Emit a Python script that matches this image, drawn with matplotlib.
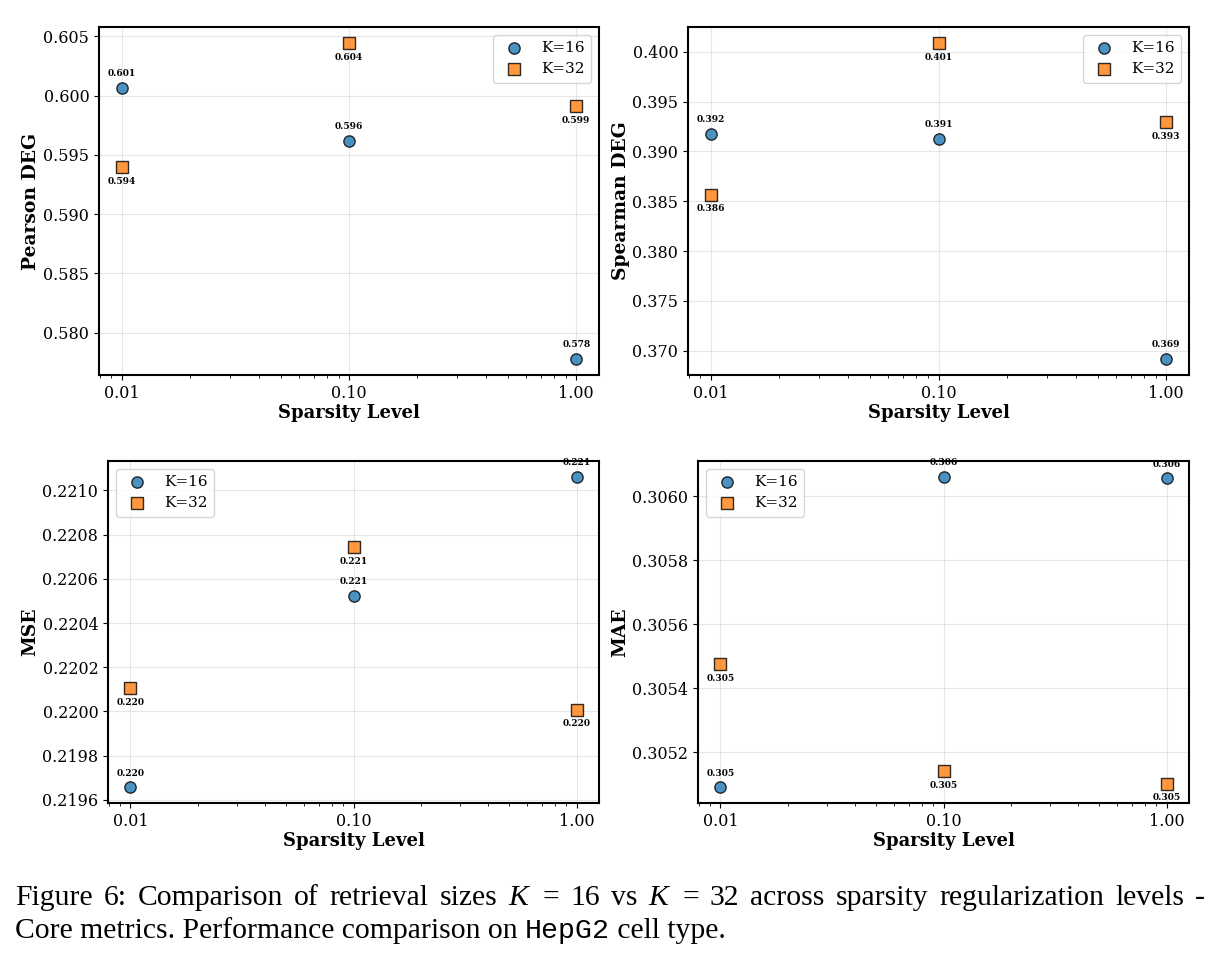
import matplotlib
matplotlib.use("Agg")
import matplotlib.pyplot as plt
from matplotlib.ticker import FixedLocator, FuncFormatter, ScalarFormatter

plt.rcParams["font.family"] = "serif"
plt.rcParams["font.serif"] = ["DejaVu Serif"]
plt.rcParams["mathtext.fontset"] = "custom"
plt.rcParams["mathtext.rm"] = "Liberation Serif"
plt.rcParams["mathtext.it"] = "Liberation Serif:italic"

# data
sparsity = [0.01, 0.10, 1.00]
x_ticks = [0.01, 0.1, 1.0]

pearson_k16 = [0.60067, 0.59621, 0.57777]
pearson_k32 = [0.59396, 0.60446, 0.59914]

spearman_k16 = [0.39174, 0.39127, 0.36916]
spearman_k32 = [0.38568, 0.40090, 0.39291]

mse_k16 = [0.219656, 0.220524, 0.221063]
mse_k32 = [0.220105, 0.220745, 0.220008]

mae_k16 = [0.305090, 0.306062, 0.306056]
mae_k32 = [0.305476, 0.305140, 0.305102]

panels = [
    ("Pearson DEG", pearson_k16, pearson_k32, [99, 27, 599, 375], "upper right"),
    ("Spearman DEG", spearman_k16, spearman_k32, [688, 27, 1189, 375], "upper right"),
    ("MSE", mse_k16, mse_k32, [108, 461, 599, 803], "upper left"),
    ("MAE", mae_k16, mae_k32, [698, 461, 1189, 803], "upper left"),
]

W, H = 1218, 961
fig = plt.figure(figsize=(W / 100, H / 100), dpi=100)

for name, k16, k32, box, loc in panels:
    x0, y0, x1, y1 = box
    ax = fig.add_axes([x0 / W, 1 - y1 / H, (x1 - x0) / W, (y1 - y0) / H])

    ax.scatter(sparsity, k16, s=66, marker="o", color="tab:blue", alpha=0.8,
               edgecolor="black", linewidth=1, label="K=16", zorder=3)
    ax.scatter(sparsity, k32, s=66, marker="s", color="tab:orange", alpha=0.8,
               edgecolor="black", linewidth=1, label="K=32", zorder=3)

    for x, v in zip(sparsity, k16):
        ax.annotate(f"{v:.3f}", (x, v), textcoords="offset points", xytext=(0, 7),
                    ha="center", va="bottom", fontsize=6.5, fontweight="bold")
    for x, v in zip(sparsity, k32):
        ax.annotate(f"{v:.3f}", (x, v), textcoords="offset points", xytext=(0, -7),
                    ha="center", va="top", fontsize=6.5, fontweight="bold")

    ax.set_xscale("log")
    ax.xaxis.set_major_locator(FixedLocator(x_ticks))
    ax.xaxis.set_major_formatter(FuncFormatter(lambda v, p: f"{v:.2f}"))
    ax.yaxis.set_major_formatter(ScalarFormatter(useOffset=False))

    ax.set_xlabel("Sparsity Level", fontsize=13, fontweight="bold", labelpad=2)
    ax.set_ylabel(name, fontsize=13.5, fontweight="bold", labelpad=2)
    ax.tick_params(labelsize=11.5)
    ax.grid(True, alpha=0.3)
    for sp in ax.spines.values():
        sp.set_linewidth(1.5)
    ax.legend(loc=loc, fontsize=11)

# caption, first line justified to full width
renderer = fig.canvas.get_renderer()
cap_size = 21.3
left, right = 15, 1205
line1 = ("Figure 6: Comparison of retrieval sizes $K$ = 16 vs $K$ = 32 "
         "across sparsity regularization levels -")
words = line1.split(" ")
texts = [fig.text(0, 1 - 905 / H, w, fontsize=cap_size, family="Liberation Serif",
                  va="baseline") for w in words]
widths = [t.get_window_extent(renderer).width for t in texts]
gap = (right - left - sum(widths)) / (len(words) - 1)
xpos = left
for t, w in zip(texts, widths):
    t.set_x(xpos / W)
    xpos += w + gap

y2 = 1 - 938 / H
t = fig.text(left / W, y2, "Core metrics. Performance comparison on ", fontsize=cap_size,
             family="Liberation Serif", va="baseline")
bb = t.get_window_extent(renderer)
t = fig.text(bb.x1 / W, y2, "HepG2", fontsize=cap_size - 1, family="Liberation Mono",
             va="baseline")
bb = t.get_window_extent(renderer)
fig.text(bb.x1 / W, y2, " cell type.", fontsize=cap_size, family="Liberation Serif",
         va="baseline")

fig.savefig("out.png", dpi=100)
